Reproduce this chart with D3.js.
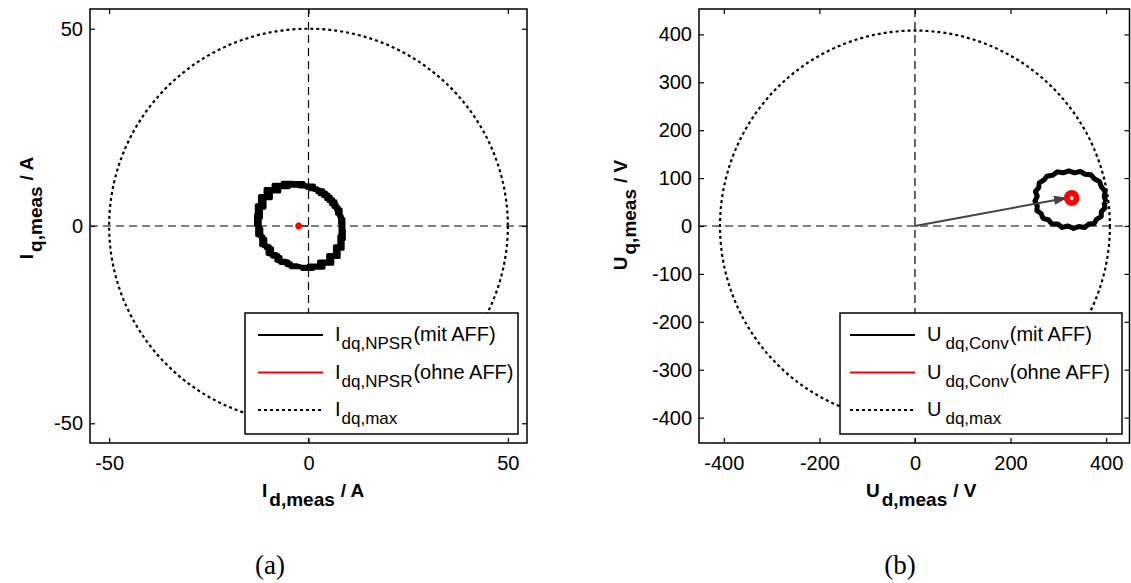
<!DOCTYPE html>
<html><head><meta charset="utf-8">
<script src="https://cdn.jsdelivr.net/npm/d3@7"></script>
<style>
body{margin:0;background:#fff}
svg{display:block}
text{font-family:"Liberation Sans",Arial,Helvetica,sans-serif;fill:#000}
</style>
</head><body>
<svg id="c" width="1131" height="583"></svg>
<script>
// ---------------- data ----------------
const iTicks = [-50, 0, 50];
const uXTicks = [-400, -200, 0, 200, 400];
const uYTicks = [-400, -300, -200, -100, 0, 100, 200, 300, 400];
const iMax = 50;     // A
const uMax = 408;    // V

// I_dq,NPSR (mit AFF) – measured stair trace (overlapping turns)
const iMitA = [[8.6,0],[8.4,2.5],[7.6,4.8],[6.2,6.8],[4.4,8.5],[2.2,9.6],[-0.4,10.3],[-3,10.5],[-5.6,10.1],[-8,9.0],[-10,7.2],[-11.4,5.0],[-12.3,2.6],[-12.6,0],[-12.3,-2.6],[-11.3,-5.1],[-9.7,-7.3],[-7.6,-9.0],[-5.0,-10.1],[-2.2,-10.5],[0.6,-10.2],[3.2,-9.2],[5.4,-7.5],[7.1,-5.3],[8.2,-2.8],[8.6,0]];
const iMitB = [[8.0,0.6],[7.9,3.1],[7.1,5.5],[5.6,7.5],[3.7,9.1],[1.4,10.3],[-1.2,10.9],[-3.9,11.0],[-6.5,10.5],[-8.8,9.4],[-10.8,7.6],[-12.2,5.3],[-13.0,2.8],[-13.2,0.2],[-12.9,-2.4],[-11.9,-4.9],[-10.3,-7.1],[-8.1,-8.8],[-5.6,-9.9],[-2.8,-10.3],[0,-10.0],[2.6,-9.0],[4.9,-7.3],[6.6,-5.1],[7.7,-2.5],[8.0,0.6]];
const iMitC = [[8.9,-0.8],[8.8,1.8],[8.1,4.2],[6.8,6.3],[5.0,8.0],[2.8,9.3],[0.3,10.0],[-2.3,10.2],[-4.9,9.8],[-7.3,8.7],[-9.4,7.0],[-11.0,4.6],[-11.9,2.0],[-12.2,-0.6],[-11.8,-3.2],[-10.8,-5.6],[-9.1,-7.8],[-7.0,-9.4],[-4.4,-10.5],[-1.6,-10.9],[1.2,-10.6],[3.8,-9.6],[6.0,-7.9],[7.6,-5.8],[8.6,-3.4],[8.9,-0.8]];
// I_dq,NPSR (ohne AFF)
const iOhne = [[-2.0,0],[-2.2,0.4],[-2.7,0.4],[-2.9,0.0],[-2.7,-0.4],[-2.3,-0.4],[-2.0,0]];
const iArrow = [[0,0],[-2.0,0]];

// U_dq,Conv (mit AFF)
const uMit = [[400,50],[396,62],[398,72],[390,82],[386,93],[376,98],[368,107],[356,108],[346,114],[334,111],[322,115],[310,111],[298,113],[288,106],[276,104],[270,96],[260,90],[259,80],[252,72],[256,62],[251,52],[256,42],[255,32],[264,26],[268,16],[279,13],[287,4],[299,4],[308,-3],[320,0],[332,-5],[343,-1],[355,-3],[364,4],[375,5],[380,14],[390,20],[390,30],[398,38],[396,46],[400,50]];
// U_dq,Conv (ohne AFF)
const uOhne = [[338,58],[335,66],[328,69],[321,66],[318,59],[321,51],[328,48],[335,51],[338,58]];
const uArrow = [[0,0],[320,59]];

const legMainI = ["I","I","I"];
const legSubI = ["dq,NPSR","dq,NPSR","dq,max"];
const legMainU = ["U","U","U"];
const legSubU = ["dq,Conv","dq,Conv","dq,max"];
const legTail = ["(mit AFF)","(ohne AFF)",""];
const legStyle = ["mit","ohne","max"];

// ---------------- drawing ----------------
const svg = d3.select("#c");
const defs = svg.append("defs");
defs.append("marker").attr("id","arr").attr("markerUnits","userSpaceOnUse")
  .attr("markerWidth",16).attr("markerHeight",12).attr("refX",14).attr("refY",6)
  .attr("orient","auto")
  .append("path").attr("d","M0,1.5 L14,6 L0,10.5 Z").attr("fill","#444");

function panel(cfg){
  const x = d3.scaleLinear().domain(cfg.xd).range([cfg.x0, cfg.x1]);
  const y = d3.scaleLinear().domain(cfg.yd).range([cfg.y1, cfg.y0]);
  const g = svg.append("g");
  // crosshair
  g.append("line").attr("x1",x(0)).attr("x2",x(0)).attr("y1",cfg.y0).attr("y2",cfg.y1)
    .attr("stroke","#000").attr("stroke-width",1.2).attr("stroke-dasharray","8,5");
  g.append("line").attr("x1",cfg.x0).attr("x2",cfg.x1).attr("y1",y(0)).attr("y2",y(0))
    .attr("stroke","#000").attr("stroke-width",1.2).attr("stroke-dasharray","8,5");
  // max circle
  g.append("ellipse").attr("cx",x(0)).attr("cy",y(0))
    .attr("rx",x(cfg.rmax)-x(0)).attr("ry",y(0)-y(cfg.rmax))
    .attr("fill","none").attr("stroke","#000").attr("stroke-width",2.2).attr("stroke-dasharray","3,3");
  // traces
  cfg.black.forEach(d=>{
    g.append("path").attr("d", d3.line().x(p=>x(p[0])).y(p=>y(p[1])).curve(cfg.curve)(d))
      .attr("fill","none").attr("stroke","#000").attr("stroke-width",cfg.bw).attr("stroke-linejoin","round");
  });
  g.append("path").attr("d", d3.line().x(p=>x(p[0])).y(p=>y(p[1]))(cfg.arrow))
    .attr("fill","none").attr("stroke","#444").attr("stroke-width",2)
    .attr("marker-end", cfg.arrowHead ? "url(#arr)" : null);
  g.append("path").attr("d", d3.line().x(p=>x(p[0])).y(p=>y(p[1])).curve(d3.curveCardinalClosed)(cfg.red.slice(0,-1)))
    .attr("fill","none").attr("stroke","#f00").attr("stroke-width",cfg.rw);
  // legend
  const L = cfg.leg;
  g.append("rect").attr("x",L.x).attr("y",L.y).attr("width",L.w).attr("height",L.h)
    .attr("fill","#fff").attr("stroke","#000").attr("stroke-width",1.5);
  for(let i=0;i<3;i++){
    const yy = L.y + 22 + i*37.5;
    g.append("line").attr("x1",L.sx0).attr("x2",L.sx1).attr("y1",yy).attr("y2",yy)
      .attr("stroke", legStyle[i]==="ohne" ? "#f00" : "#000")
      .attr("stroke-width", legStyle[i]==="max" ? 2 : 2.2)
      .attr("stroke-dasharray", legStyle[i]==="max" ? "3,3" : null);
    const t = g.append("text").attr("x",L.tx).attr("y",yy+6).style("font-size","20px");
    t.append("tspan").text(cfg.legMain[i]);
    t.append("tspan").attr("dx",L.subdx).attr("dy",8).style("font-size","17px").text(cfg.legSub[i]);
    if(legTail[i]) t.append("tspan").attr("dy",-8).attr("dx",1).text(legTail[i]);
  }
  // frame
  g.append("rect").attr("x",cfg.x0).attr("y",cfg.y0).attr("width",cfg.x1-cfg.x0).attr("height",cfg.y1-cfg.y0)
    .attr("fill","none").attr("stroke","#000").attr("stroke-width",1.5);
  // axes
  const fmt = d => String(d);
  const st = s=>{ s.select(".domain").remove(); s.selectAll("line").attr("stroke","#000").attr("stroke-width",1.2);
    s.selectAll("text").style("font-size","20px").style("font-family",'"Liberation Sans",Arial,sans-serif').attr("fill","#000"); };
  g.append("g").attr("transform",`translate(0,${cfg.y1})`)
    .call(d3.axisBottom(x).tickValues(cfg.xt).tickFormat(fmt).tickSizeInner(-5).tickSizeOuter(0).tickPadding(13)).call(st);
  g.append("g").attr("transform",`translate(0,${cfg.y0})`)
    .call(d3.axisTop(x).tickValues(cfg.xt).tickSizeInner(-5).tickSizeOuter(0).tickFormat("")).call(st);
  g.append("g").attr("transform",`translate(${cfg.x0},0)`)
    .call(d3.axisLeft(y).tickValues(cfg.yt).tickFormat(fmt).tickSizeInner(-5).tickSizeOuter(0).tickPadding(7)).call(st);
  g.append("g").attr("transform",`translate(${cfg.x1},0)`)
    .call(d3.axisRight(y).tickValues(cfg.yt).tickSizeInner(-5).tickSizeOuter(0).tickFormat("")).call(st);
  // axis titles
  const xt = g.append("text").attr("x",cfg.xtx).attr("y",497).style("font-size","19px").style("font-weight","bold");
  xt.append("tspan").text(cfg.sym);
  xt.append("tspan").attr("dx",2).attr("dy",9).text("d,meas");
  xt.append("tspan").attr("dx",6).attr("dy",-9).text("/ " + cfg.unit);
  const yt = g.append("text").attr("transform",`translate(${cfg.ytx},${cfg.yty}) rotate(-90)`)
    .attr("text-anchor","middle").style("font-size","19px").style("font-weight","bold");
  yt.append("tspan").text(cfg.sym);
  yt.append("tspan").attr("dx",2).attr("dy",9).text("q,meas");
  yt.append("tspan").attr("dx",6).attr("dy",-9).text("/ " + cfg.unit);
  // caption
  svg.append("text").attr("x",cfg.capx).attr("y",574).attr("text-anchor","middle")
    .style("font-family",'"Liberation Serif","Times New Roman",serif').style("font-size","27px").text(cfg.cap);
}

panel({xd:[-54.8,54.8], yd:[-55,55], x0:90, x1:527, y0:9, y1:443, xt:iTicks, yt:iTicks, rmax:iMax,
  black:[iMitA,iMitB,iMitC], curve:d3.curveStepAfter, bw:3.8, red:iOhne, rw:3.5, arrow:iArrow, arrowHead:false,
  leg:{x:245,y:313,w:273,h:121,sx0:258,sx1:323,tx:335,subdx:1}, legMain:legMainI, legSub:legSubI,
  sym:"I", unit:"A", xtx:262, ytx:33, yty:208, cap:"(a)", capx:270});

panel({xd:[-452,449], yd:[-453,453], x0:699, x1:1129.5, y0:9, y1:443, xt:uXTicks, yt:uYTicks, rmax:uMax,
  black:[uMit], curve:d3.curveLinear, bw:5, red:uOhne, rw:6, arrow:uArrow, arrowHead:true,
  leg:{x:840,y:313,w:282,h:121,sx0:850,sx1:915,tx:927,subdx:4}, legMain:legMainU, legSub:legSubU,
  sym:"U", unit:"V", xtx:866, ytx:627, yty:215, cap:"(b)", capx:900});
</script>
</body></html>
